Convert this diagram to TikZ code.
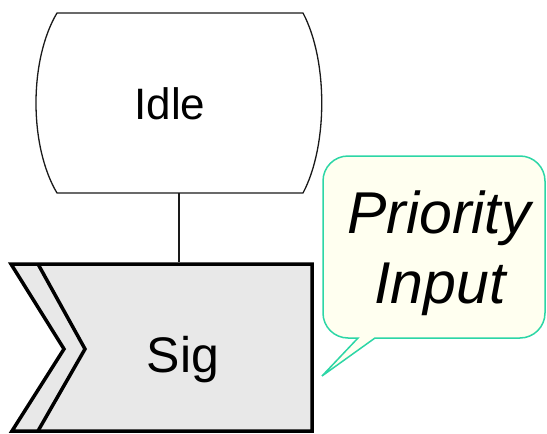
\documentclass[tikz,border=0pt]{standalone}
\usepackage{fontspec}
\setmainfont{Liberation Sans}
\definecolor{sigfill}{HTML}{E8E8E8}
\definecolor{notefill}{HTML}{FFFFF0}
\definecolor{noteline}{HTML}{2CD6A6}
\definecolor{ink}{HTML}{1A1A1A}
\tikzset{
  statebox/.style={draw=ink, line width=1.3pt, fill=white},
  inputbox/.style={draw=black, line width=3.5pt, fill=sigfill, line join=miter},
  notebox/.style={draw=noteline, line width=1.5pt, fill=notefill},
  flow/.style={draw=ink, line width=1.1pt},
  lbl/.style={anchor=base, inner sep=0pt, text=black}
}
\begin{document}
\begin{tikzpicture}[x=1pt, y=-1pt]
\useasboundingbox (0,0) rectangle (547,434);

% state symbol with bulging sides
\path[statebox] (57,13) -- (303,13)
  .. controls (328,60) and (328,146) .. (303,193)
  -- (57,193)
  .. controls (29,146) and (29,60) .. (57,13) -- cycle;
\node[lbl, font=\fontsize{44}{50}\selectfont] (idle) at (170,119) {Idle};
\coordinate (idlebottom) at (179,193);

% priority input symbol (double chevron on the left)
\path[inputbox] (11,264) -- (312,264) -- (312,431) -- (12,431) -- (64,349) -- cycle;
\draw[line width=3.5pt, line join=miter] (38,264) -- (85,349) -- (38,431);
\node[lbl, font=\fontsize{50}{56}\selectfont] (sig) at (183,372) {Sig};
\coordinate (sigtop) at (179,262);

\draw[flow] (idlebottom) -- (sigtop);

% comment balloon: rounded box, sharp-cornered tail
\path[notebox, rounded corners=25pt] (450,338) -- (545,338) -- (545,156) -- (323,156)
  -- (323,338) [sharp corners] -- (358,338) -- (322,376) -- (375,338) -- cycle;
\node[lbl, font=\itshape\fontsize{59}{66}\selectfont] (prio) at (439,233) {Priority};
\node[lbl, font=\itshape\fontsize{59}{66}\selectfont] (inp) at (440,303) {Input};
\end{tikzpicture}
\end{document}
